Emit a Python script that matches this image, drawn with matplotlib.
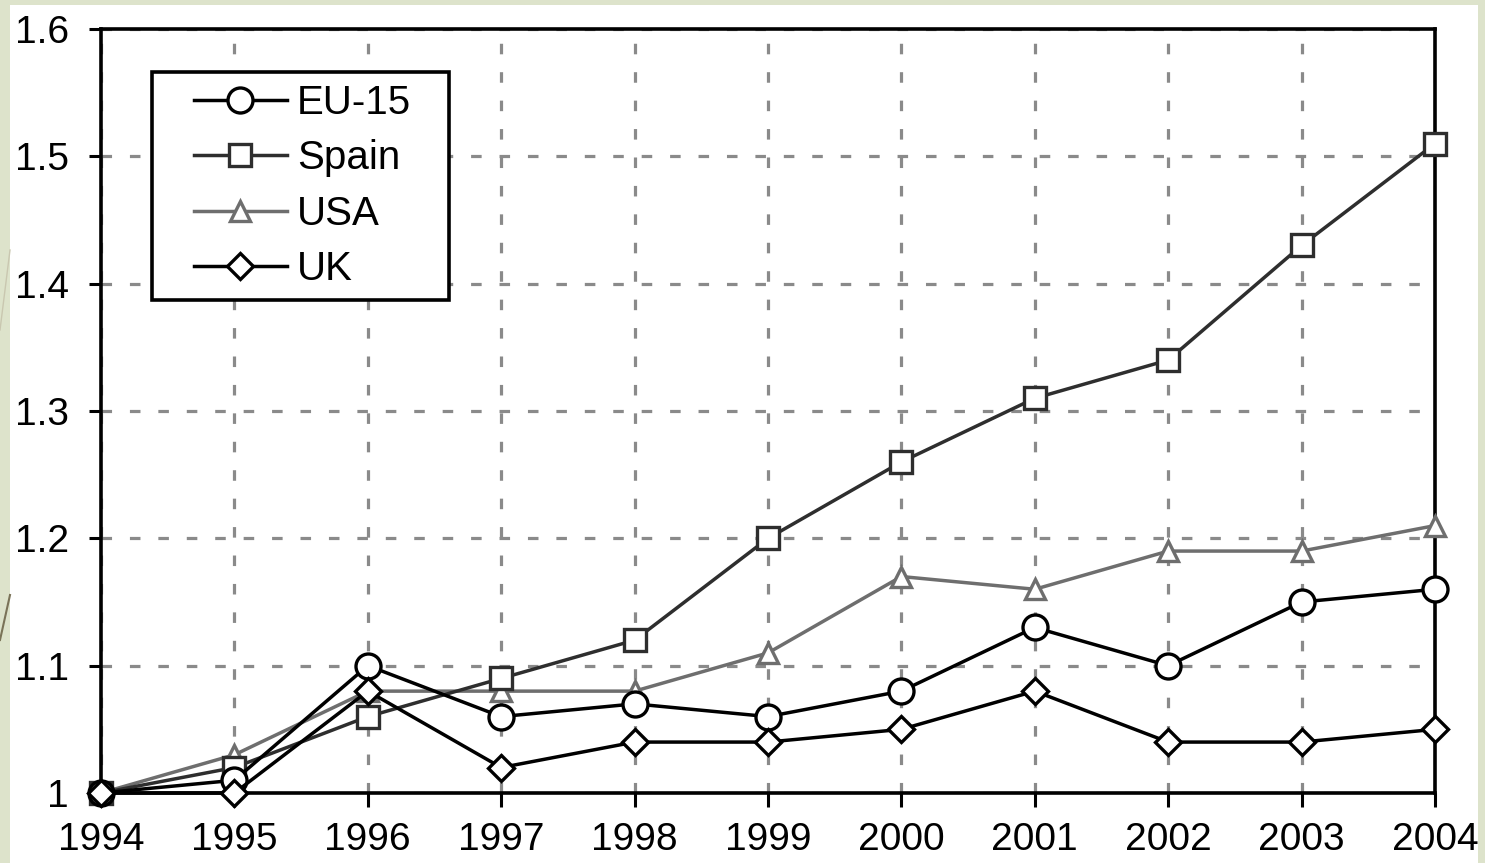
import matplotlib
matplotlib.use("Agg")
import matplotlib.pyplot as plt
from matplotlib.lines import Line2D
from matplotlib.patches import Rectangle

plt.rcParams['font.family'] = ['Liberation Sans', 'DejaVu Sans']

years = [1994, 1995, 1996, 1997, 1998, 1999, 2000, 2001, 2002, 2003, 2004]
eu15 = [1.00, 1.01, 1.10, 1.06, 1.07, 1.06, 1.08, 1.13, 1.10, 1.15, 1.16]
spain = [1.00, 1.02, 1.06, 1.09, 1.12, 1.20, 1.26, 1.31, 1.34, 1.43, 1.51]
usa = [1.00, 1.03, 1.08, 1.08, 1.08, 1.11, 1.17, 1.16, 1.19, 1.19, 1.21]
uk = [1.00, 1.00, 1.08, 1.02, 1.04, 1.04, 1.05, 1.08, 1.04, 1.04, 1.05]
y_ticks = [1.0, 1.1, 1.2, 1.3, 1.4, 1.5, 1.6]
y_labels = ["1", "1.1", "1.2", "1.3", "1.4", "1.5", "1.6"]

W, H = 1485, 863
fig = plt.figure(figsize=(W / 100, H / 100), dpi=100)
fig.patch.set_facecolor("#dde3cb")

# white slide panel
fig.add_artist(Rectangle((10 / W, 0), (1478 - 10) / W, 1 - 5 / H,
                         transform=fig.transFigure, facecolor="white",
                         edgecolor="none", zorder=0))
# decorative strokes in the left margin
fig.add_artist(Line2D([0, 10 / W], [1 - 640 / H, 1 - 595 / H],
                      transform=fig.transFigure, color="#7a7358", lw=1.5))
fig.add_artist(Line2D([0, 10 / W], [1 - 330 / H, 1 - 250 / H],
                      transform=fig.transFigure, color="#c9c7b0", lw=1.0))

ax = fig.add_axes([101 / W, 1 - 793 / H, (1435 - 101) / W, (793 - 29) / H])
ax.set_facecolor("none")
ax.set_xlim(1994, 2004)
ax.set_ylim(1.0, 1.6)

ax.set_xticks(years)
ax.set_xticklabels([str(y) for y in years])
ax.set_yticks(y_ticks)
ax.set_yticklabels(y_labels)
ax.tick_params(axis="both", labelsize=28, width=2.2, color="black")
ax.tick_params(axis="x", length=10, pad=11)
ax.tick_params(axis="y", length=9, pad=14)

ax.grid(True, color="#8a8a8a", linestyle=(0, (3.3, 5.6)), linewidth=2.3)
for s in ax.spines.values():
    s.set_linewidth(2.6)
    s.set_color("black")

common = dict(linewidth=2.5, markerfacecolor="white",
              markeredgewidth=2.4, clip_on=False)
ax.plot(years, eu15, marker="o", color="black", label="EU-15",
        markersize=18, zorder=5, **common)
ax.plot(years, spain, marker="s", color="#2e2e2e", label="Spain",
        markersize=15.5, zorder=4, **common)
ax.plot(years, usa, marker="^", color="#6e6e6e", label="USA",
        markersize=15, zorder=3, **common)
ax.plot(years, uk, marker="D", color="black", label="UK",
        markersize=13.5, zorder=6, **common)

leg = ax.legend(loc="upper left", bbox_to_anchor=(182 / W, 1 - 72 / H),
                bbox_transform=fig.transFigure, fontsize=29, frameon=False,
                handlelength=2.3, handletextpad=0.25, labelspacing=0.43,
                borderpad=0.3, borderaxespad=0)
leg.set_zorder(10)

# legend frame: tight vertically, wider margins left and right
fig.canvas.draw()
bb = leg.get_window_extent().transformed(fig.transFigure.inverted())
padx = 30 / W
frame = Rectangle((bb.x0 - padx, bb.y0), bb.width + 2 * padx - 4 / W, bb.height,
                  transform=fig.transFigure, facecolor="white",
                  edgecolor="black", linewidth=2.6, zorder=9)
fig.add_artist(frame)
fig.add_artist(leg)
ax.legend_ = None

fig.savefig("out.png", dpi=100, facecolor=fig.get_facecolor())
